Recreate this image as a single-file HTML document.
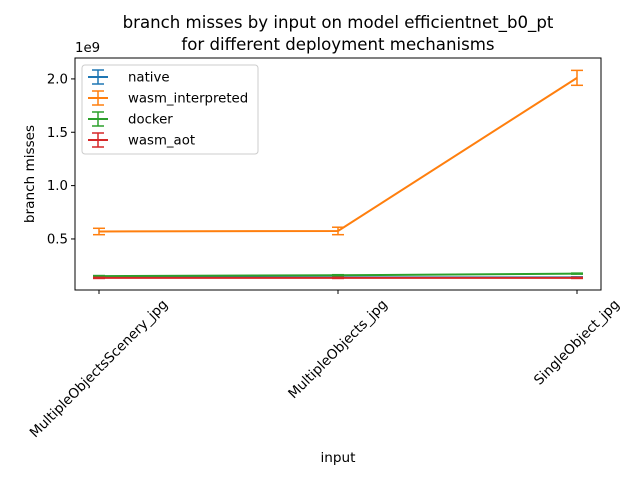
<!DOCTYPE html>
<html><head><meta charset="utf-8"><style>
body{margin:0;background:#fff;}
text{font-family:"DejaVu Sans","Liberation Sans",sans-serif;}
</style></head><body>
<svg id="chart" width="640" height="480" xmlns="http://www.w3.org/2000/svg"></svg>
<script>
const categories=["MultipleObjectsScenery_jpg","MultipleObjects_jpg","SingleObject_jpg"];
const seriesNames=["native","wasm_interpreted","docker","wasm_aot"];
const colors=["#1f77b4","#ff7f0e","#2ca02c","#d62728"];
const nativeVals=[0.14e9,0.14e9,0.14e9];
const wasmInterpVals=[0.57e9,0.575e9,2.01e9];
const dockerVals=[0.152e9,0.16e9,0.175e9];
const wasmAotVals=[0.135e9,0.135e9,0.135e9];
const nativeErr=[0.005e9,0.005e9,0.005e9];
const wasmInterpErr=[0.03e9,0.035e9,0.07e9];
const dockerErr=[0.005e9,0.005e9,0.005e9];
const wasmAotErr=[0.005e9,0.005e9,0.005e9];
const yTicks=[0.5e9,1.0e9,1.5e9,2.0e9];
const yTickLabels=["0.5","1.0","1.5","2.0"];
const NS="http://www.w3.org/2000/svg";
const svg=document.getElementById('chart');
const L=75,R=601,T=58,B=290;
const yMin=0.0216e9,yMax=2.196e9;
function x(i){return 99+i*239;}
function y(v){return B-(v-yMin)/(yMax-yMin)*(B-T);}
function mk(tag,attrs,parent){const e=document.createElementNS(NS,tag);for(const k in attrs)e.setAttribute(k,attrs[k]);(parent||svg).appendChild(e);return e;}
const t1=mk('text',{x:338,y:28,'text-anchor':'middle','font-size':'16.6'});t1.textContent="branch misses by input on model efficientnet_b0_pt";

const t2=mk('text',{x:338,y:50,'text-anchor':'middle','font-size':'16.6'});t2.textContent="for different deployment mechanisms";

const series=[nativeVals,wasmInterpVals,dockerVals,wasmAotVals];
const errs=[nativeErr,wasmInterpErr,dockerErr,wasmAotErr];
[0,1,2,3].forEach(s=>{
 const g=mk('g',{});
 
 const pts=series[s].map((v,i)=>x(i)+','+y(v)).join(' ');
 mk('polyline',{points:pts,fill:'none',stroke:colors[s],'stroke-width':2},g);
 series[s].forEach((v,i)=>{
  const e=errs[s][i],cx=x(i);
  const eb=mk('g',{stroke:colors[s],'stroke-width':1.5},g);
  
  mk('line',{x1:cx,x2:cx,y1:y(v-e),y2:y(v+e)},eb);
  mk('line',{x1:cx-6,x2:cx+6,y1:y(v-e),y2:y(v-e)},eb);
  mk('line',{x1:cx-6,x2:cx+6,y1:y(v+e),y2:y(v+e)},eb);
 });
});
const frame=mk('rect',{x:L,y:T,width:R-L,height:B-T,fill:'none',stroke:'#000','stroke-width':1});

yTicks.forEach((v,i)=>{
 mk('line',{x1:L-4,x2:L,y1:y(v),y2:y(v),stroke:'#000'});
 const t=mk('text',{x:L-7,y:y(v)+4.5,'text-anchor':'end','font-size':'13.3'});t.textContent=yTickLabels[i];
 
});
const ex=mk('text',{x:L,y:T-6,'font-size':'13.3'});ex.textContent="1e9";

categories.forEach((c,i)=>{
 mk('line',{x1:x(i),x2:x(i),y1:B,y2:B+4,stroke:'#000'});
 const t=mk('text',{x:0,y:0,'text-anchor':'middle','font-size':'13.6','dominant-baseline':'central'});t.textContent=c;
 
 const len=t.getComputedTextLength();
 const cy=B+7+(len+15)*0.7071/2;
 t.setAttribute('transform',`translate(${x(i)} ${cy}) rotate(-45)`);
});
const xl=mk('text',{x:338,y:462,'text-anchor':'middle','font-size':'13.6'});xl.textContent="input";

const yl=mk('text',{x:34,y:174,'text-anchor':'middle','font-size':'13.6',transform:'rotate(-90 34 174)'});yl.textContent="branch misses";

const lg=mk('g',{});
mk('rect',{x:82,y:65,width:176,height:89,rx:3,fill:'#fff',stroke:'#ccc'},lg);
seriesNames.forEach((n,i)=>{
 const ly=77+i*21;
 const e=mk('g',{},lg);
 mk('line',{x1:88,x2:108,y1:ly,y2:ly,stroke:colors[i],'stroke-width':2},e);
 mk('line',{x1:98,x2:98,y1:ly-7,y2:ly+7,stroke:colors[i],'stroke-width':1.5},e);
 mk('line',{x1:92,x2:104,y1:ly-7,y2:ly-7,stroke:colors[i],'stroke-width':1.5},e);
 mk('line',{x1:92,x2:104,y1:ly+7,y2:ly+7,stroke:colors[i],'stroke-width':1.5},e);
 const t=mk('text',{x:128,y:ly+4.5,'font-size':'13.3'},e);t.textContent=n;
});
</script>
</body></html>
